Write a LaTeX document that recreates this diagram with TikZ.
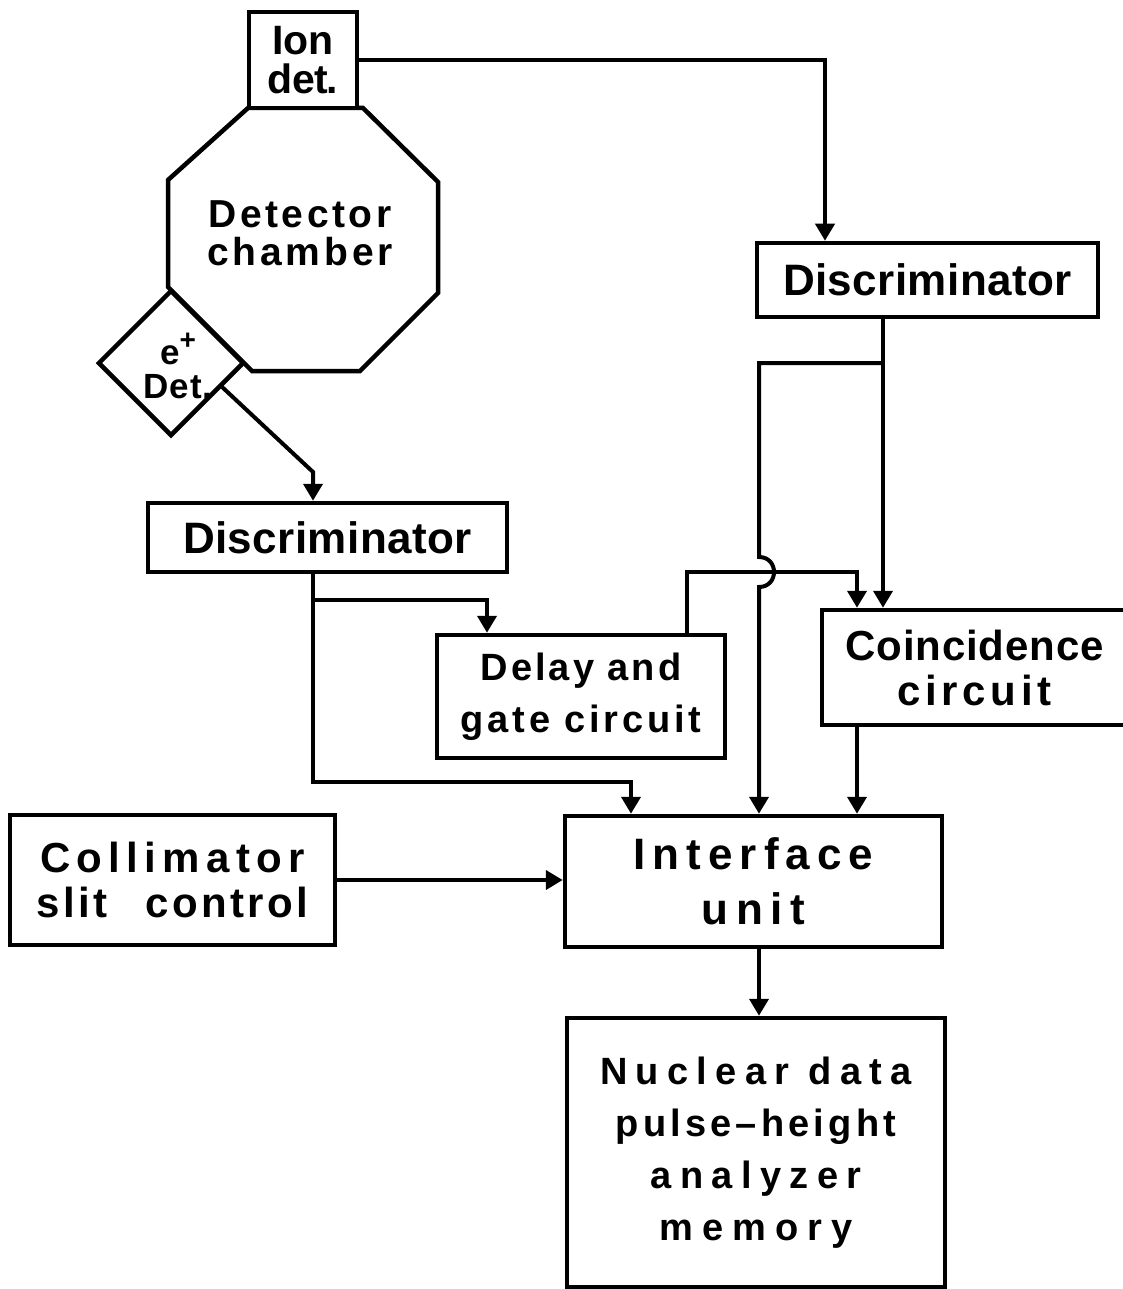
\documentclass[tikz,border=0pt]{standalone}
\usepackage{fontspec}
\setmainfont{Liberation Sans}
\usetikzlibrary{arrows.meta,shapes.geometric,calc}
\newcommand\lsp[2]{{\addfontfeatures{LetterSpace=#1}#2}}
\newcommand\fsz[2]{\fontsize{#1}{#2}\selectfont\bfseries}
\begin{document}
\begin{tikzpicture}[x=1pt,y=-1pt,
  box/.style={draw, line width=4.5pt, inner sep=0pt, align=center},
  conn/.style={line width=4pt},
  arr/.style={conn, -{Triangle[width=19pt,length=17pt]}}]
\useasboundingbox (0,0) rectangle (1123,1289);

% octagon (detector chamber)
\draw[line width=4.5pt] (248,108) -- (363,108) -- (438,182) -- (438,293) -- (360,371) -- (252,371) -- (168,287) -- (168,180) -- cycle;
\node[font=\fsz{39}{38}, align=center] (chamber) at (300,233) {\lsp{9}{Detector}\\\lsp{10}{chamber}};

% ion detector
\node[box, fill=white, minimum width=108pt, minimum height=96pt, font=\fsz{41}{39}] (ion) at (303,60) {Ion\\\lsp{-2}{det.}};

% positron detector
\node[draw, diamond, aspect=1, line width=4.5pt, minimum width=146pt, minimum height=146pt, inner sep=0pt] (edet) at (171,363) {};
\node[font=\fsz{35}{34}, align=center] (edetlbl) at (178,366) {e\raisebox{15pt}{\fontsize{28}{28}\selectfont +}\\\lsp{3}{Det.}};

% boxes
\node[box, minimum width=341pt, minimum height=74pt, font=\fsz{44}{50}] (disc2) at (927.5,280) {\lsp{1}{Discriminator}};
\node[box, minimum width=359pt, minimum height=69pt, font=\fsz{44}{50}] (disc1) at (327.5,537.5) {\lsp{1}{Discriminator}};
\node[box, minimum width=288pt, minimum height=123pt, font=\fsz{38}{52}] (delay) at (581,696.5) {\lsp{8}{Delay and}\\\lsp{10}{gate circuit}};
\node[box, minimum width=305pt, minimum height=115pt, font=\fsz{42}{45}] (coinc) at (974.5,667.5) {\lsp{2}{Coincidence}\\\lsp{11}{circuit}};
\node[box, minimum width=377pt, minimum height=131pt, font=\fsz{44}{55}] (iface) at (753.5,881.5) {\lsp{16}{Interface}\\\lsp{17}{unit}};
\node[box, minimum width=325pt, minimum height=130pt, font=\fsz{42}{45}] (coll) at (172.5,880) {\lsp{15}{Collimator}\\\lsp{8}{slit\hspace{38pt}control}};
\node[box, minimum width=378pt, minimum height=269pt, font=\fsz{38}{52}] (nuc) at (756,1152.5) {\lsp{22}{Nuclear data}\\\lsp{11}{pulse--height}\\\lsp{22}{analyzer}\\\lsp{24}{memory}};

% helper coordinates
\coordinate (xA) at (825,0);
\coordinate (ebend) at (313,472);
\coordinate (xd1) at (313,0);
\coordinate (j1) at (313,782);
\coordinate (j2) at (313,600);
\coordinate (xi1) at (631,0);
\coordinate (xdl) at (487,0);
\coordinate (xdo) at (687,0);
\coordinate (j3) at (687,572);
\coordinate (xc1) at (857,0);
\coordinate (xd2) at (883,0);
\coordinate (j4) at (883,363);
\coordinate (j5) at (759,363);
\coordinate (hopA) at (759,557);
\coordinate (hopB) at (759,587);
\coordinate (hopCa) at (779,557);
\coordinate (hopCb) at (779,587);
\coordinate (xn) at (759,0);

% connectors
\draw[arr] (ion.east) -| (xA |- disc2.north);
\draw[arr] ($(edet.east)!0.32!(edet.south)$) -- (ebend) -- (ebend |- disc1.north);
\draw[arr] (xd1 |- disc1.south) -- (j1) -| (xi1 |- iface.north);
\draw[arr] (j2) -| (xdl |- delay.north);
\draw[arr] (xdo |- delay.north) -- (j3) -| (xc1 |- coinc.north);
\draw[arr] (xd2 |- disc2.south) -- (xd2 |- coinc.north);
\draw[arr] (j4) -- (j5) -- (hopA) .. controls (hopCa) and (hopCb) .. (hopB) -- (hopB |- iface.north);
\draw[arr] (xc1 |- coinc.south) -- (xc1 |- iface.north);
\draw[arr] (coll.east) -- (coll.east -| iface.west);
\draw[arr] (xn |- iface.south) -- (xn |- nuc.north);
\end{tikzpicture}
\end{document}
